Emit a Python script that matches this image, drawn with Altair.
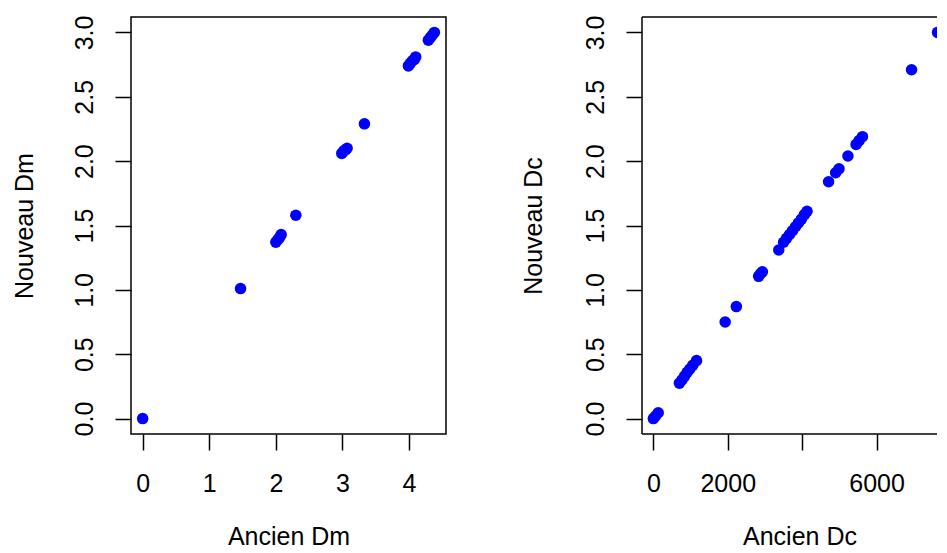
import altair as alt
import pandas as pd

# ---- data ----
dm_old = [0.0, 1.47, 2.00, 2.03, 2.06, 2.08, 2.30, 2.99, 3.02, 3.05, 3.07, 3.33,
          3.99, 4.02, 4.05, 4.08, 4.10, 4.29, 4.32, 4.35, 4.38]
dm_new = [0.0, 1.01, 1.37, 1.39, 1.41, 1.43, 1.58, 2.06, 2.08, 2.09, 2.10, 2.29,
          2.74, 2.76, 2.78, 2.79, 2.81, 2.94, 2.96, 2.98, 3.00]

dc_old = [0, 60, 130, 700, 770, 840, 910, 980, 1060, 1160, 1930, 2230,
          2830, 2880, 2930, 3370, 3500, 3580, 3660, 3740, 3820, 3900, 3980,
          4060, 4130, 4710, 4900, 4990, 5230, 5450, 5530, 5620, 6940, 7640]
dc_new = [0.0, 0.02, 0.045, 0.275, 0.30, 0.33, 0.36, 0.385, 0.415, 0.45, 0.75, 0.87,
          1.105, 1.125, 1.14, 1.31, 1.37, 1.40, 1.43, 1.46, 1.49, 1.52, 1.55,
          1.585, 1.61, 1.84, 1.91, 1.94, 2.04, 2.13, 2.16, 2.19, 2.71, 3.00]

y_ticks = [0, 0.5, 1, 1.5, 2, 2.5, 3]
dm_ticks = [0, 1, 2, 3, 4]
dc_ticks = [0, 2000, 4000, 6000]

FONT = "Liberation Sans"
FS = 25
BLUE = "#0000FF"
W, H = 315, 417
W2 = 297

left_df = pd.DataFrame({"old": dm_old, "new": dm_new})
right_df = pd.DataFrame({"old": dc_old, "new": dc_new})
box_df = pd.DataFrame({"k": [0]})


def y_axis(title, tx):
    return alt.Axis(title=title, values=y_ticks, format=".1f",
                    labelAngle=270, labelAlign="center", labelBaseline="alphabetic",
                    labelPadding=22.7, titleAngle=270, titleBaseline="alphabetic",
                    titleX=tx, labelOverlap=False)


def x_axis(title, values, **kw):
    return alt.Axis(title=title, values=values, format="d",
                    labelBaseline="alphabetic", labelPadding=41,
                    titleBaseline="alphabetic", titleY=110,
                    labelFlush=False, labelOverlap=False, **kw)


left = alt.Chart(left_df).mark_circle(size=133, color=BLUE, opacity=1, clip=True).encode(
    x=alt.X("old:Q", scale=alt.Scale(domain=[-0.175, 4.555], nice=False, zero=False),
            axis=x_axis("Ancien Dm", dm_ticks)),
    y=alt.Y("new:Q", scale=alt.Scale(domain=[-0.12, 3.12], nice=False, zero=False),
            axis=y_axis("Nouveau Dm", -99)),
).properties(width=W, height=H)

pts = alt.Chart(right_df).mark_circle(size=133, color=BLUE, opacity=1, clip=True).encode(
    x=alt.X("old:Q", scale=alt.Scale(domain=[-305.5, 7678], nice=False, zero=False),
            axis=x_axis("Ancien Dc", dc_ticks,
                        labelExpr="datum.value == 4000 ? '' : datum.label",
                        titleX=157.5)),
    y=alt.Y("new:Q", scale=alt.Scale(domain=[-0.12, 3.12], nice=False, zero=False),
            axis=y_axis("Nouveau Dc", -100.5)),
)

rule = alt.Chart(box_df).mark_rule(color="black", strokeWidth=1.5)
top = rule.encode(x=alt.value(0), x2=alt.value(W2), y=alt.value(0))
bottom = rule.encode(x=alt.value(0), x2=alt.value(W2), y=alt.value(H))
leftline = rule.encode(x=alt.value(0), y=alt.value(0), y2=alt.value(H))

right = alt.layer(pts, top, bottom, leftline).properties(
    width=W2, height=H, view=alt.ViewBackground(stroke="transparent"))

chart = alt.hconcat(left, right, spacing=73).properties(
    padding={"left": 3, "top": 6, "right": -4.5, "bottom": -5.5}
).configure_view(
    stroke="black", strokeWidth=1.5
).configure_axis(
    domain=False, grid=False, ticks=True, tickSize=16, tickWidth=1.5, tickColor="black",
    labelFont=FONT, labelFontSize=FS, labelColor="black",
    titleFont=FONT, titleFontSize=FS, titleFontWeight="normal", titleColor="black",
)

chart.save("out.html", embed_options={"renderer": "svg", "actions": False})
